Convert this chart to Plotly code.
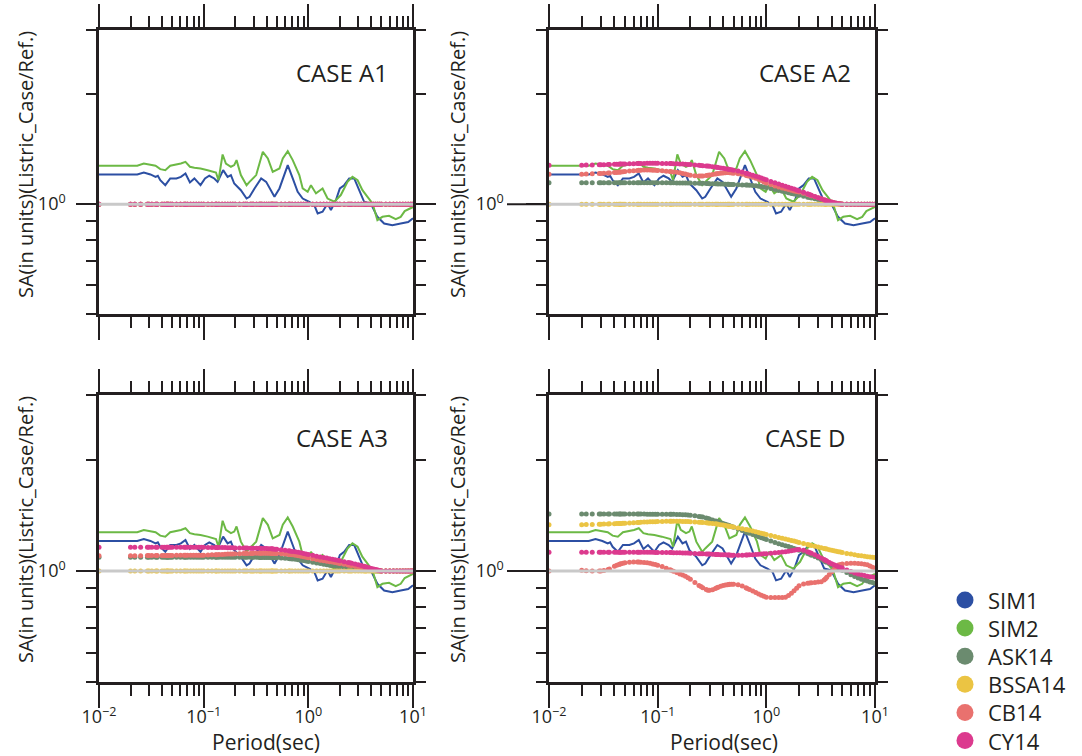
import math
import plotly.graph_objects as go

FIG_W, FIG_H = 1082, 756

# ---------------- data ----------------
# GMPE periods (s)
PERIODS = [
    0.01, 0.02, 0.022, 0.025, 0.029, 0.03, 0.032, 0.035, 0.036, 0.04,
    0.042, 0.044, 0.045, 0.046, 0.048, 0.05, 0.055, 0.06, 0.065, 0.067,
    0.07, 0.075, 0.08, 0.085, 0.09, 0.095, 0.1, 0.11, 0.12, 0.13,
    0.133, 0.14, 0.15, 0.16, 0.17, 0.18, 0.19, 0.2, 0.22, 0.24,
    0.25, 0.26, 0.28, 0.29, 0.3, 0.32, 0.34, 0.35, 0.36, 0.38,
    0.4, 0.42, 0.44, 0.45, 0.46, 0.48, 0.5, 0.55, 0.6, 0.65,
    0.667, 0.7, 0.75, 0.8, 0.85, 0.9, 0.95, 1.0, 1.1, 1.2,
    1.3, 1.4, 1.5, 1.6, 1.7, 1.8, 1.9, 2.0, 2.2, 2.4,
    2.5, 2.6, 2.8, 3.0, 3.2, 3.4, 3.5, 3.6, 3.8, 4.0,
    4.2, 4.4, 4.6, 4.8, 5.0, 5.5, 6.0, 6.5, 7.0, 7.5,
    8.0, 8.5, 9.0, 9.5, 10.0,
]

UNITY = [
    1.0, 1.0, 1.0, 1.0, 1.0, 1.0, 1.0, 1.0, 1.0, 1.0,
    1.0, 1.0, 1.0, 1.0, 1.0, 1.0, 1.0, 1.0, 1.0, 1.0,
    1.0, 1.0, 1.0, 1.0, 1.0, 1.0, 1.0, 1.0, 1.0, 1.0,
    1.0, 1.0, 1.0, 1.0, 1.0, 1.0, 1.0, 1.0, 1.0, 1.0,
    1.0, 1.0, 1.0, 1.0, 1.0, 1.0, 1.0, 1.0, 1.0, 1.0,
    1.0, 1.0, 1.0, 1.0, 1.0, 1.0, 1.0, 1.0, 1.0, 1.0,
    1.0, 1.0, 1.0, 1.0, 1.0, 1.0, 1.0, 1.0, 1.0, 1.0,
    1.0, 1.0, 1.0, 1.0, 1.0, 1.0, 1.0, 1.0, 1.0, 1.0,
    1.0, 1.0, 1.0, 1.0, 1.0, 1.0, 1.0, 1.0, 1.0, 1.0,
    1.0, 1.0, 1.0, 1.0, 1.0, 1.0, 1.0, 1.0, 1.0, 1.0,
    1.0, 1.0, 1.0, 1.0, 1.0,
]

# simulations (same in all panels)
SIM1_T = [0.01, 0.02, 0.0232, 0.0268, 0.031, 0.0347, 0.0365, 0.0385, 0.043, 0.0479,
          0.0549, 0.0606, 0.067, 0.0739, 0.0815, 0.0933, 0.103, 0.1131, 0.1263, 0.1359,
          0.1535, 0.1693, 0.1821, 0.1959, 0.2267, 0.257, 0.2742, 0.3061, 0.3543, 0.3955,
          0.4745, 0.5297, 0.6358, 0.7095, 0.7911, 0.8831, 1.0217, 1.14, 1.228, 1.368,
          1.527, 1.643, 1.833, 2.0, 2.201, 2.456, 2.745, 3.061, 3.412, 3.955,
          4.569, 5.297, 6.349, 7.63, 9.0, 10.0]
SIM1_V = [1.206, 1.206, 1.206, 1.221, 1.206, 1.188, 1.196, 1.163, 1.127, 1.176,
          1.176, 1.188, 1.213, 1.147, 1.176, 1.127, 1.176, 1.196, 1.176, 1.151,
          1.239, 1.188, 1.201, 1.139, 1.092, 1.036, 1.047, 1.104, 1.176, 1.151,
          1.047, 1.104, 1.279, 1.176, 1.081, 1.036, 1.015, 0.994, 0.943, 0.953,
          1.004, 0.963, 1.025, 1.104, 1.127, 1.176, 1.176, 1.092, 1.015, 1.004,
          0.923, 0.885, 0.876, 0.885, 0.893, 0.915]

SIM2_T = [0.01, 0.02, 0.0232, 0.0268, 0.031, 0.0347, 0.0385, 0.043, 0.0479, 0.0549,
          0.0606, 0.067, 0.0739, 0.0815, 0.0933, 0.1092, 0.1311, 0.1386, 0.1517, 0.1631,
          0.1821, 0.1959, 0.2061, 0.2267, 0.257, 0.2742, 0.3175, 0.3675, 0.4104, 0.4569,
          0.5297, 0.5701, 0.6358, 0.7095, 0.82, 0.8831, 0.9857, 1.0594, 1.1831, 1.368,
          1.527, 1.772, 2.043, 2.368, 2.64, 2.955, 3.289, 3.675, 4.104, 4.569,
          5.104, 5.902, 6.841, 7.63, 8.332, 10.0]
SIM2_V = [1.274, 1.274, 1.274, 1.292, 1.279, 1.274, 1.247, 1.239, 1.274, 1.284,
          1.292, 1.306, 1.266, 1.258, 1.252, 1.239, 1.221, 1.163, 1.368, 1.292,
          1.266, 1.279, 1.320, 1.201, 1.127, 1.151, 1.201, 1.391, 1.334, 1.226,
          1.252, 1.334, 1.397, 1.320, 1.201, 1.104, 1.081, 1.127, 1.070, 1.104,
          1.036, 1.015, 1.059, 1.151, 1.188, 1.163, 1.092, 1.047, 1.004, 0.904,
          0.923, 0.929, 0.910, 0.923, 0.957, 0.982]

# CASE A2 GMPE ratios
A2_ASK14 = [
    1.145, 1.145, 1.145, 1.145, 1.145, 1.145, 1.145, 1.145, 1.145, 1.145,
    1.145, 1.145, 1.145, 1.145, 1.145, 1.145, 1.145, 1.145, 1.145, 1.145,
    1.145, 1.145, 1.145, 1.145, 1.145, 1.145, 1.145, 1.144, 1.144, 1.144,
    1.144, 1.144, 1.143, 1.143, 1.143, 1.142, 1.142, 1.142, 1.141, 1.140,
    1.140, 1.140, 1.139, 1.139, 1.138, 1.138, 1.137, 1.137, 1.136, 1.135,
    1.135, 1.134, 1.133, 1.133, 1.132, 1.131, 1.131, 1.130, 1.129, 1.129,
    1.128, 1.127, 1.125, 1.123, 1.120, 1.117, 1.114, 1.110, 1.103, 1.096,
    1.090, 1.084, 1.079, 1.074, 1.070, 1.066, 1.062, 1.058, 1.051, 1.045,
    1.042, 1.039, 1.034, 1.030, 1.026, 1.022, 1.020, 1.018, 1.015, 1.012,
    1.009, 1.006, 1.004, 1.002, 1.000, 1.000, 1.000, 1.000, 1.000, 1.000,
    1.000, 1.000, 1.000, 1.000, 1.000,
]
A2_CB14 = [
    1.208, 1.208, 1.209, 1.211, 1.213, 1.214, 1.215, 1.217, 1.218, 1.220,
    1.221, 1.223, 1.224, 1.225, 1.227, 1.229, 1.232, 1.235, 1.237, 1.238,
    1.239, 1.240, 1.240, 1.240, 1.239, 1.238, 1.237, 1.234, 1.231, 1.228,
    1.227, 1.225, 1.222, 1.219, 1.214, 1.209, 1.204, 1.200, 1.196, 1.194,
    1.194, 1.195, 1.198, 1.200, 1.202, 1.206, 1.210, 1.212, 1.214, 1.216,
    1.218, 1.219, 1.220, 1.220, 1.219, 1.218, 1.216, 1.212, 1.207, 1.200,
    1.197, 1.192, 1.185, 1.178, 1.170, 1.160, 1.150, 1.142, 1.131, 1.122,
    1.114, 1.108, 1.102, 1.097, 1.092, 1.087, 1.083, 1.079, 1.071, 1.063,
    1.059, 1.055, 1.048, 1.041, 1.034, 1.028, 1.025, 1.022, 1.017, 1.013,
    1.009, 1.006, 1.004, 1.002, 1.001, 1.000, 1.000, 1.000, 1.000, 1.000,
    1.000, 1.000, 1.000, 1.000, 1.000,
]
A2_CY14 = [
    1.279, 1.279, 1.280, 1.281, 1.282, 1.283, 1.283, 1.284, 1.285, 1.286,
    1.287, 1.287, 1.288, 1.288, 1.289, 1.289, 1.290, 1.291, 1.292, 1.292,
    1.293, 1.293, 1.294, 1.294, 1.294, 1.294, 1.294, 1.293, 1.293, 1.292,
    1.292, 1.291, 1.290, 1.289, 1.288, 1.286, 1.285, 1.284, 1.281, 1.278,
    1.277, 1.275, 1.272, 1.271, 1.269, 1.266, 1.263, 1.262, 1.260, 1.257,
    1.254, 1.251, 1.248, 1.247, 1.245, 1.242, 1.239, 1.232, 1.224, 1.216,
    1.213, 1.208, 1.200, 1.193, 1.186, 1.179, 1.172, 1.166, 1.154, 1.144,
    1.135, 1.127, 1.120, 1.113, 1.106, 1.100, 1.094, 1.088, 1.078, 1.068,
    1.063, 1.058, 1.049, 1.041, 1.034, 1.027, 1.024, 1.021, 1.016, 1.012,
    1.008, 1.005, 1.003, 1.001, 1.000, 1.000, 1.000, 1.000, 1.000, 1.000,
    1.000, 1.000, 1.000, 1.000, 1.000,
]

# CASE A3 GMPE ratios
A3_ASK14 = [
    1.090, 1.090, 1.090, 1.090, 1.090, 1.090, 1.090, 1.090, 1.090, 1.090,
    1.090, 1.090, 1.090, 1.090, 1.090, 1.090, 1.090, 1.090, 1.090, 1.090,
    1.090, 1.090, 1.090, 1.090, 1.090, 1.090, 1.090, 1.090, 1.090, 1.090,
    1.090, 1.090, 1.090, 1.090, 1.089, 1.089, 1.089, 1.089, 1.089, 1.089,
    1.089, 1.089, 1.089, 1.089, 1.089, 1.089, 1.088, 1.088, 1.088, 1.088,
    1.088, 1.088, 1.087, 1.087, 1.087, 1.086, 1.086, 1.085, 1.083, 1.081,
    1.080, 1.078, 1.076, 1.073, 1.070, 1.067, 1.064, 1.061, 1.056, 1.051,
    1.047, 1.043, 1.040, 1.037, 1.034, 1.031, 1.029, 1.027, 1.023, 1.019,
    1.017, 1.016, 1.013, 1.010, 1.008, 1.006, 1.005, 1.004, 1.003, 1.002,
    1.001, 1.000, 1.000, 1.000, 1.000, 1.000, 1.000, 1.000, 1.000, 1.000,
    1.000, 1.000, 1.000, 1.000, 1.000,
]
A3_CB14 = [
    1.100, 1.100, 1.100, 1.100, 1.101, 1.101, 1.101, 1.101, 1.101, 1.102,
    1.102, 1.102, 1.102, 1.102, 1.102, 1.102, 1.103, 1.103, 1.103, 1.103,
    1.103, 1.103, 1.103, 1.103, 1.103, 1.104, 1.104, 1.105, 1.106, 1.107,
    1.107, 1.108, 1.109, 1.110, 1.111, 1.112, 1.112, 1.113, 1.114, 1.115,
    1.115, 1.116, 1.116, 1.116, 1.117, 1.117, 1.117, 1.117, 1.117, 1.117,
    1.117, 1.117, 1.116, 1.116, 1.116, 1.115, 1.115, 1.113, 1.111, 1.109,
    1.108, 1.106, 1.103, 1.100, 1.097, 1.093, 1.089, 1.086, 1.080, 1.075,
    1.070, 1.066, 1.063, 1.060, 1.057, 1.054, 1.051, 1.048, 1.043, 1.038,
    1.036, 1.034, 1.030, 1.027, 1.024, 1.021, 1.020, 1.018, 1.015, 1.012,
    1.009, 1.007, 1.005, 1.002, 1.000, 1.000, 1.000, 1.000, 1.000, 1.000,
    1.000, 1.000, 1.000, 1.000, 1.000,
]
A3_CY14 = [
    1.159, 1.159, 1.159, 1.159, 1.159, 1.159, 1.159, 1.159, 1.159, 1.159,
    1.159, 1.159, 1.159, 1.159, 1.159, 1.159, 1.159, 1.159, 1.159, 1.159,
    1.159, 1.159, 1.159, 1.159, 1.159, 1.159, 1.159, 1.158, 1.158, 1.158,
    1.158, 1.157, 1.157, 1.157, 1.156, 1.156, 1.156, 1.155, 1.155, 1.154,
    1.154, 1.154, 1.153, 1.153, 1.153, 1.152, 1.152, 1.152, 1.151, 1.151,
    1.150, 1.149, 1.148, 1.148, 1.147, 1.146, 1.145, 1.142, 1.138, 1.134,
    1.133, 1.130, 1.127, 1.124, 1.120, 1.116, 1.112, 1.109, 1.103, 1.097,
    1.092, 1.088, 1.084, 1.080, 1.076, 1.072, 1.069, 1.066, 1.060, 1.055,
    1.052, 1.050, 1.045, 1.040, 1.035, 1.030, 1.027, 1.025, 1.020, 1.016,
    1.012, 1.009, 1.006, 1.003, 1.000, 1.000, 1.000, 1.000, 1.000, 1.000,
    1.000, 1.000, 1.000, 1.000, 1.000,
]

# CASE D GMPE ratios
D_ASK14 = [
    1.427, 1.427, 1.427, 1.427, 1.427, 1.427, 1.427, 1.427, 1.427, 1.427,
    1.427, 1.427, 1.427, 1.427, 1.427, 1.427, 1.427, 1.427, 1.427, 1.427,
    1.427, 1.427, 1.426, 1.426, 1.426, 1.425, 1.425, 1.425, 1.425, 1.425,
    1.425, 1.424, 1.423, 1.422, 1.421, 1.420, 1.418, 1.415, 1.411, 1.406,
    1.403, 1.400, 1.392, 1.388, 1.384, 1.375, 1.367, 1.363, 1.359, 1.352,
    1.345, 1.338, 1.332, 1.329, 1.326, 1.320, 1.314, 1.300, 1.288, 1.276,
    1.272, 1.265, 1.256, 1.247, 1.239, 1.231, 1.224, 1.217, 1.205, 1.194,
    1.186, 1.178, 1.171, 1.165, 1.158, 1.150, 1.145, 1.139, 1.127, 1.115,
    1.110, 1.104, 1.094, 1.084, 1.074, 1.065, 1.060, 1.056, 1.047, 1.039,
    1.031, 1.024, 1.017, 1.010, 1.004, 0.990, 0.977, 0.966, 0.957, 0.950,
    0.944, 0.939, 0.934, 0.930, 0.926,
]
D_BSSA14 = [
    1.335, 1.335, 1.336, 1.337, 1.339, 1.339, 1.340, 1.341, 1.342, 1.343,
    1.344, 1.345, 1.345, 1.346, 1.347, 1.348, 1.350, 1.352, 1.354, 1.354,
    1.355, 1.357, 1.358, 1.359, 1.360, 1.360, 1.361, 1.362, 1.363, 1.363,
    1.363, 1.363, 1.363, 1.363, 1.362, 1.362, 1.361, 1.360, 1.358, 1.356,
    1.355, 1.354, 1.351, 1.350, 1.348, 1.345, 1.342, 1.340, 1.338, 1.335,
    1.332, 1.328, 1.325, 1.323, 1.322, 1.318, 1.315, 1.308, 1.302, 1.295,
    1.293, 1.289, 1.283, 1.277, 1.272, 1.266, 1.261, 1.256, 1.248, 1.240,
    1.233, 1.227, 1.221, 1.215, 1.210, 1.205, 1.200, 1.195, 1.187, 1.180,
    1.176, 1.173, 1.167, 1.161, 1.156, 1.151, 1.149, 1.147, 1.142, 1.138,
    1.135, 1.131, 1.128, 1.125, 1.122, 1.116, 1.111, 1.106, 1.102, 1.099,
    1.096, 1.093, 1.091, 1.089, 1.087,
]
D_CB14 = [
    1.000, 1.005, 1.002, 1.000, 1.000, 1.000, 1.003, 1.010, 1.013, 1.030,
    1.036, 1.041, 1.044, 1.046, 1.050, 1.053, 1.056, 1.057, 1.057, 1.057,
    1.056, 1.055, 1.052, 1.049, 1.045, 1.041, 1.037, 1.028, 1.017, 1.007,
    1.004, 0.998, 0.990, 0.982, 0.975, 0.967, 0.958, 0.950, 0.930, 0.914,
    0.907, 0.901, 0.891, 0.887, 0.886, 0.890, 0.897, 0.900, 0.903, 0.909,
    0.913, 0.916, 0.918, 0.919, 0.920, 0.921, 0.921, 0.918, 0.911, 0.901,
    0.897, 0.891, 0.882, 0.874, 0.866, 0.860, 0.854, 0.849, 0.848, 0.848,
    0.848, 0.848, 0.849, 0.858, 0.870, 0.884, 0.898, 0.912, 0.922, 0.926,
    0.928, 0.929, 0.931, 0.933, 0.935, 0.945, 0.953, 0.961, 0.978, 0.995,
    1.010, 1.025, 1.038, 1.042, 1.045, 1.048, 1.049, 1.049, 1.048, 1.046,
    1.043, 1.039, 1.032, 1.024, 1.017,
]
D_CY14 = [
    1.124, 1.124, 1.124, 1.124, 1.124, 1.124, 1.124, 1.124, 1.124, 1.124,
    1.124, 1.124, 1.124, 1.124, 1.124, 1.124, 1.124, 1.124, 1.124, 1.124,
    1.124, 1.124, 1.124, 1.124, 1.124, 1.123, 1.123, 1.123, 1.122, 1.122,
    1.122, 1.121, 1.121, 1.120, 1.119, 1.118, 1.118, 1.117, 1.116, 1.114,
    1.114, 1.113, 1.112, 1.111, 1.111, 1.110, 1.109, 1.108, 1.108, 1.107,
    1.106, 1.106, 1.105, 1.105, 1.105, 1.104, 1.104, 1.104, 1.104, 1.105,
    1.105, 1.106, 1.107, 1.108, 1.110, 1.111, 1.113, 1.114, 1.117, 1.120,
    1.122, 1.125, 1.128, 1.131, 1.134, 1.138, 1.141, 1.144, 1.138, 1.128,
    1.122, 1.117, 1.106, 1.095, 1.084, 1.074, 1.069, 1.064, 1.055, 1.046,
    1.039, 1.033, 1.027, 1.022, 1.018, 1.006, 0.996, 0.988, 0.981, 0.976,
    0.972, 0.968, 0.965, 0.963, 0.961,
]

SERIES_NAMES = ["SIM1", "SIM2", "ASK14", "BSSA14", "CB14", "CY14"]
SERIES_COLORS = ["#2c4fa3", "#6cb945", "#6b8b6f", "#ebc443", "#e9716e", "#dc3a8e"]

PANEL_TITLES = ["CASE A1", "CASE A2", "CASE A3", "CASE D"]
PANEL_GMPE = [
    [UNITY, UNITY, UNITY, UNITY],
    [A2_ASK14, UNITY, A2_CB14, A2_CY14],
    [A3_ASK14, UNITY, A3_CB14, A3_CY14],
    [D_ASK14, D_BSSA14, D_CB14, D_CY14],
]

Y_TITLE = "SA(in units)(Listric_Case/Ref.)"
X_TITLE = "Period(sec)"

# ---------------- layout constants (pixels) ----------------
COL_PX = [(99, 413), (549, 875)]
ROW_PX = [(30, 314), (395, 682)]
TEXT = "#231f20"
AXC = "#231f20"
FONT = "Open Sans"
Y_MIN, Y_MAX = 0.5, 3.0
REF_RATIO = 1.0
# fractional position of the reference ratio inside the y domain
REF_FRAC = (math.log10(REF_RATIO) - math.log10(Y_MIN)) / (math.log10(Y_MAX) - math.log10(Y_MIN))

for arr in [UNITY] + [s for p in PANEL_GMPE for s in p]:
    assert len(arr) == len(PERIODS)
assert len(SIM1_T) == len(SIM1_V) and len(SIM2_T) == len(SIM2_V)

fig = go.Figure()

minor_x = [m * 10 ** e for e in (-2, -1, 0) for m in range(2, 10)]
minor_y = [0.5, 0.6, 0.7, 0.8, 0.9, 2, 3]

layout = dict(
    width=FIG_W, height=FIG_H,
    margin=dict(l=0, r=0, t=0, b=0, autoexpand=False),
    paper_bgcolor="white", plot_bgcolor="white",
    showlegend=False,
    font=dict(family=FONT, color=TEXT),
)
annotations = []
shapes = []

for i in range(4):
    row, col = divmod(i, 2)
    n = i + 1
    xs = "" if n == 1 else str(n)
    xref, yref = "x" + xs, "y" + xs
    x0, x1 = COL_PX[col]
    y0, y1 = ROW_PX[row]

    # simulation lines
    fig.add_trace(go.Scatter(x=SIM1_T, y=SIM1_V, mode="lines", name=SERIES_NAMES[0],
                             line=dict(color=SERIES_COLORS[0], width=2),
                             xaxis=xref, yaxis=yref))
    fig.add_trace(go.Scatter(x=SIM2_T, y=SIM2_V, mode="lines", name=SERIES_NAMES[1],
                             line=dict(color=SERIES_COLORS[1], width=2),
                             xaxis=xref, yaxis=yref))
    # GMPE dotted series
    for k, vals in enumerate(PANEL_GMPE[i]):
        fig.add_trace(go.Scatter(x=PERIODS, y=vals, mode="markers", name=SERIES_NAMES[k + 2],
                                 marker=dict(color=SERIES_COLORS[k + 2], size=5, line=dict(width=0)),
                                 xaxis=xref, yaxis=yref))

    layout["xaxis" + xs] = dict(
        type="log", range=[-2, 1], domain=[x0 / FIG_W, x1 / FIG_W], anchor=yref,
        showline=True, linecolor=AXC, linewidth=2.5, mirror="allticks",
        ticks="outside", ticklen=23, tickwidth=2, tickcolor=AXC,
        tickmode="array", tickvals=[0.01, 0.1, 1, 10],
        ticktext=["10<sup>\u22122</sup>", "10<sup>\u22121</sup>", "10<sup>0</sup>", "10<sup>1</sup>"],
        showticklabels=(row == 1), ticklabelstandoff=-6,
        tickfont=dict(size=18, color=TEXT, family=FONT),
        showgrid=False, zeroline=False,
        minor=dict(tickmode="array", tickvals=minor_x, ticks="outside", ticklen=11,
                   tickwidth=2, tickcolor=AXC, showgrid=False),
    )
    layout["yaxis" + xs] = dict(
        type="log", range=[math.log10(Y_MIN), math.log10(Y_MAX)],
        domain=[1 - y1 / FIG_H, 1 - y0 / FIG_H], anchor=xref,
        showline=True, linecolor=AXC, linewidth=2.5, mirror="allticks",
        ticks="outside", ticklen=20, tickwidth=2, tickcolor=AXC,
        tickmode="array", tickvals=[1], ticktext=["10<sup>0</sup>"],
        showticklabels=True, ticklabelstandoff=(7 if col == 0 else 19),
        tickfont=dict(size=18, color=TEXT, family=FONT),
        showgrid=False, zeroline=False,
        minor=dict(tickmode="array", tickvals=minor_y, ticks="outside", ticklen=10,
                   tickwidth=2, tickcolor=AXC, showgrid=False),
    )

    # reference line at ratio 1
    shapes.append(dict(type="line", xref=xref + " domain", yref=yref + " domain",
                       x0=0, x1=1, y0=REF_FRAC, y1=REF_FRAC, layer="above",
                       line=dict(color="#c9c9c9", width=3)))
    if col == 1:
        # longer left-side tick at 10^0 for right-column panels
        shapes.append(dict(type="line", xref=xref + " domain", yref=yref + " domain",
                           x0=-42 / (x1 - x0), x1=0, y0=REF_FRAC, y1=REF_FRAC,
                           line=dict(color=AXC, width=2)))

    # panel title
    cx = [342, 805][col]
    cy = [72, 437][row]
    annotations.append(dict(text=PANEL_TITLES[i], x=cx / FIG_W, y=1 - cy / FIG_H,
                            xref="paper", yref="paper", showarrow=False,
                            xanchor="center", yanchor="middle",
                            font=dict(size=24, color=TEXT, family=FONT)))
    # y-axis title
    tx = [25, 457][col]
    ty = [165, 530][row]
    annotations.append(dict(text=Y_TITLE, x=tx / FIG_W, y=1 - ty / FIG_H,
                            xref="paper", yref="paper", showarrow=False, textangle=-90,
                            xanchor="center", yanchor="middle",
                            font=dict(size=20, color=TEXT, family=FONT)))
    if row == 1:
        px_c = [266, 724][col]
        annotations.append(dict(text=X_TITLE, x=px_c / FIG_W, y=1 - 742 / FIG_H,
                                xref="paper", yref="paper", showarrow=False,
                                xanchor="center", yanchor="middle",
                                font=dict(size=21, color=TEXT, family=FONT)))

# manual legend (circles + labels)
LEG_X, LEG_Y0, LEG_DY, LEG_R = 965, 600, 28.1, 8.5
for k, name in enumerate(SERIES_NAMES):
    cy = LEG_Y0 + k * LEG_DY
    shapes.append(dict(type="circle", xref="paper", yref="paper",
                       x0=(LEG_X - LEG_R) / FIG_W, x1=(LEG_X + LEG_R) / FIG_W,
                       y0=1 - (cy + LEG_R) / FIG_H, y1=1 - (cy - LEG_R) / FIG_H,
                       fillcolor=SERIES_COLORS[k], line=dict(width=0)))
    annotations.append(dict(text=name, x=(LEG_X + 21) / FIG_W, y=1 - cy / FIG_H,
                            xref="paper", yref="paper", showarrow=False,
                            xanchor="left", yanchor="middle",
                            font=dict(size=22, color=TEXT, family=FONT)))

layout["annotations"] = annotations
layout["shapes"] = shapes
fig.update_layout(**layout)

fig.write_html("out.html")
